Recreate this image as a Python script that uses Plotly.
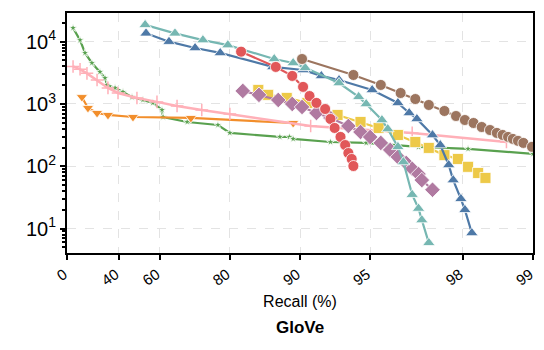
import numpy as np
import plotly.graph_objects as go

# Recall (%) and queries-per-second style values
teal_recall = [53.8, 65.6, 73.9, 79.6, 87.1, 89.3, 90.5, 93.2, 94.4, 94.8, 95.55, 95.8, 96.2, 96.4, 96.7, 96.9, 97.0, 97.2]
teal_value = [18600, 13600, 10600, 8800, 5270, 4550, 3800, 2170, 1300, 1000, 553, 396, 205, 117, 35, 21, 13.7, 5.9]

blue_recall = [54.2, 63.5, 71.8, 78.0, 86.9, 90.3, 91.9, 93.2, 95.1, 96.2, 96.6, 96.85, 97.3, 97.5, 97.7, 97.8, 97.96, 98.04, 98.17]
blue_value = [13600, 10000, 7920, 6590, 3930, 3510, 2820, 2430, 1680, 1040, 717, 575, 317, 219, 105, 60, 30, 20, 8.5]

red_recall = [82.1, 87.3, 89.2, 90.3, 90.9, 91.5, 92.2, 92.6, 92.9, 93.3, 93.6, 93.8, 94.0, 94.1]
red_value = [6910, 3930, 2820, 1880, 1340, 1040, 830, 575, 412, 296, 219, 163, 131, 101]

brown_recall = [90.2, 94.1, 95.5, 96.3, 96.8, 97.2, 97.6, 97.86, 98.04, 98.2, 98.34, 98.47, 98.57, 98.65, 98.72, 98.78, 98.84, 98.90, 98.99]
brown_value = [5270, 2920, 2020, 1500, 1200, 964, 772, 641, 553, 495, 427, 382, 343, 318, 296, 275, 256, 237, 205]

purple_recall = [82.4, 85.0, 87.6, 89.2, 90.2, 91.5, 92.6, 93.8, 94.5, 95.0, 95.5, 95.9, 96.2, 96.5, 96.7, 96.9, 97.0, 97.3]
purple_value = [1620, 1400, 1160, 1000, 895, 717, 596, 443, 355, 295, 237, 183, 141, 113, 91, 75, 60, 42]

yellow_recall = [84.9, 86.3, 88.6, 90.7, 93.1, 94.5, 95.4, 96.2, 96.8, 97.2, 97.6, 97.9, 98.1, 98.28, 98.4]
yellow_value = [1680, 1400, 1250, 1040, 666, 514, 412, 318, 245, 197, 151, 131, 98, 78, 65]

pink_recall = [5.8, 12.1, 17.9, 25.7, 33.3, 39.6, 49.9, 58.9, 66.3, 73.6, 80.0, 91.0, 96.7, 98.7]
pink_value = [4000, 3600, 3100, 2430, 1810, 1500, 1250, 1080, 929, 801, 692, 443, 343, 245]

orange_recall = [13.7, 18.7, 25.7, 33.3, 47.9, 70.6, 89.3]
orange_value = [1290, 863, 717, 666, 618, 596, 495]

green_recall = [5.8, 12.1, 16.3, 21.8, 27.8, 31.3, 32.7, 37.8, 42.5, 47.4, 52.8, 57.2, 60.9, 61.3, 69.5, 77.5, 80.0, 87.8, 88.9, 89.3, 92.6, 94.8, 96.9, 98.1, 99.0]
green_value = [16600, 10600, 6590, 4550, 3270, 2610, 2020, 1810, 1560, 1290, 1160, 1040, 801, 618, 514, 460, 343, 296, 296, 275, 245, 237, 205, 190, 158]

tick_recall = [0, 40, 60, 80, 90, 95, 98, 99]
tick_labels = ["0", "40", "60", "80", "90", "95", "98", "99"]
ytick_vals = [10, 100, 1000, 10000]
ytick_labels = ["10<sup>1</sup>", "10<sup>2</sup>", "10<sup>3</sup>", "10<sup>4</sup>"]


def tx(r):
    r = np.asarray(r, dtype=float)
    return -np.log10(1 - r / 100.0)


fig = go.Figure()

def add(recall, value, color, symbol, size, lw=2.2, outline="white", olw=0.8):
    fig.add_trace(go.Scatter(
        x=tx(recall), y=value, mode="lines+markers",
        line=dict(color=color, width=lw),
        marker=dict(symbol=symbol, size=size, color=color,
                    line=dict(color=outline, width=olw)),
        showlegend=False,
    ))

add(green_recall, green_value, "#59a14f", "star", 6)
add(orange_recall, orange_value, "#f28e2b", "triangle-down", 10)
add(pink_recall, pink_value, "#ffb0b8", "cross-thin", 9, lw=2.5, outline="#ffb0b8", olw=1.5)
add(yellow_recall, yellow_value, "#edc948", "square", 11)
add(purple_recall, purple_value, "#b07aa1", "diamond", 12)
add(blue_recall, blue_value, "#4e79a7", "triangle-up", 11)
add(teal_recall, teal_value, "#76b7b2", "triangle-up", 11)
add(red_recall, red_value, "#e15759", "circle", 11)
add(brown_recall, brown_value, "#9c755f", "circle", 11)

font_family = "Liberation Sans, Arial, sans-serif"

fig.update_layout(
    width=544, height=350,
    margin=dict(l=67, r=11, t=13, b=97),
    plot_bgcolor="white", paper_bgcolor="white",
    font=dict(family=font_family, color="black"),
    xaxis=dict(
        range=[0, 2.0], automargin=False,
        tickvals=tx(tick_recall), ticktext=tick_labels,
        tickangle=-35, tickfont=dict(size=15), ticklabelshift=-3,
        ticks="outside", ticklen=5, tickwidth=1.5, tickcolor="black",
        showline=True, linecolor="black", linewidth=2, mirror=True,
        showgrid=True, gridcolor="#e3e3e3", griddash="dash", gridwidth=1,
        zeroline=False,
        title=dict(text="Recall (%)", font=dict(size=16), standoff=8),
    ),
    yaxis=dict(
        type="log", range=[0.608, 4.46], automargin=False,
        tickvals=ytick_vals, ticktext=ytick_labels, tickfont=dict(size=20),
        ticks="outside", ticklen=5, tickwidth=1.5, tickcolor="black",
        minor=dict(ticks="outside", ticklen=3, tickcolor="black", dtick="D1", showgrid=False),
        showline=True, linecolor="black", linewidth=2, mirror=True,
        showgrid=True, gridcolor="#e3e3e3", griddash="dash", gridwidth=1,
        zeroline=False,
    ),
    annotations=[dict(
        text="<b>GloVe</b>", x=0.5, xref="paper", y=0, yref="paper",
        yshift=-63, yanchor="top", showarrow=False, font=dict(size=17),
    )],
)

fig.write_html("out.html", config={"displayModeBar": False},
               post_script="document.body.style.margin='0';document.body.style.padding='0';")
